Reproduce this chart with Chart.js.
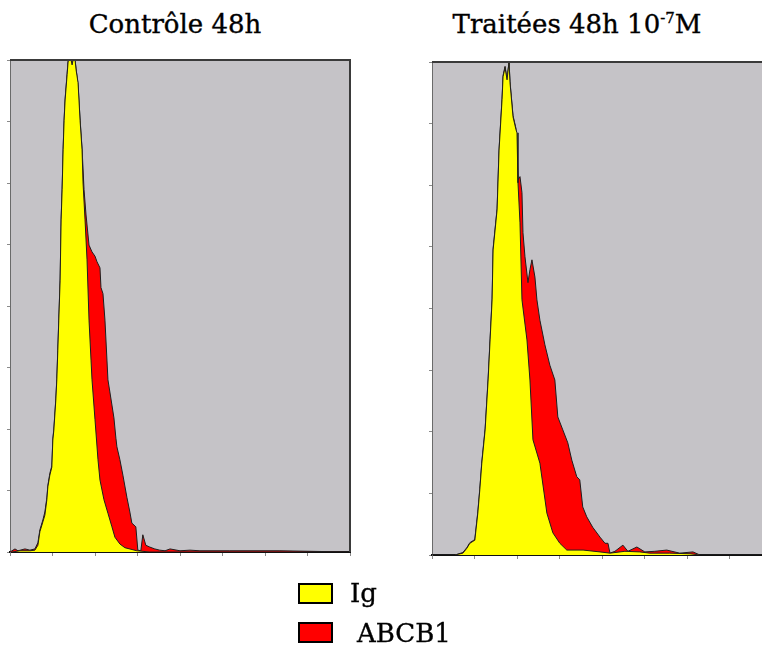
<!DOCTYPE html>
<html>
<head>
<meta charset="utf-8">
<script src="https://cdn.jsdelivr.net/npm/chart.js@4"></script>
<style>
  html, body { margin: 0; padding: 0; background: #fff; }
  body { width: 762px; height: 646px; overflow: hidden; position: relative; }
  canvas { position: absolute; top: 0; }
  .title, .lbl { position: absolute; font-family: "DejaVu Serif", serif; font-size: 26px; line-height: 26px; color: #000; white-space: nowrap; -webkit-text-stroke: 0.35px #000; }
  .title { text-align: center; top: 11px; }
  .title sup { font-size: 15px; line-height: 0; vertical-align: 10px; }
  .box { position: absolute; left: 298px; width: 35px; height: 21px; box-sizing: border-box; border: 2px solid #000; }
</style>
</head>
<body>
<div class="title" style="left:0; width:350px;">Contrôle 48h</div>
<div class="title" style="left:427px; width:300px;">Traitées 48h 10<sup>-7</sup>M</div>

<canvas id="ctrlChart" width="381" height="600" style="left:0"></canvas>
<canvas id="treatChart" width="400" height="600" style="left:381px"></canvas>

<div class="box" style="top:583px; background:#ffff00;"></div>
<div class="lbl" style="left:350px; top:580px;">Ig</div>
<div class="box" style="top:622px; background:#ff0000;"></div>
<div class="lbl" style="left:357px; top:620px;">ABCB1</div>

<script>
// fluorescence channel (0-1023) and cell counts
const ctrlIgCh = [6,30,60,75,84,90,99,105,111,114,120,126,129,132,138,141,144,147,151,154,157,160,163,166,172,175,178,184,187,190,196,199,205,211,217,220,226,232,238,244,247,256,265,271,283,295,307,316,331,346,382,421,1023];
const ctrlIgCount = [0,2,2,3,11,33,49,60,85,106,125,138,182,198,247,280,328,377,442,540,589,654,702,735,776,797,800,800,792,800,800,784,763,702,654,600,540,475,377,312,280,215,150,117,85,63,41,24,13,7,2,0,0];

const ctrlAbcb1Ch = [0,15,24,45,60,75,84,90,99,105,111,114,120,126,129,132,138,141,144,147,151,154,157,160,163,166,172,175,178,184,187,190,196,199,205,211,217,223,229,238,247,256,262,271,274,280,286,292,295,307,313,319,322,331,340,352,361,367,379,385,394,400,409,421,436,451,467,482,512,542,572,662,813,1023];
const ctrlAbcb1Count = [0,5,2,5,3,5,15,36,52,65,88,108,128,140,184,200,249,282,330,379,444,542,591,656,704,737,778,799,800,800,792,800,800,786,760,704,656,589,548,499,488,481,472,462,430,420,377,312,280,239,218,185,171,150,125,89,65,47,41,3,2,28,11,8,5,3,2,5,2,3,2,2,2,0];

const treatIgCh = [0,69,93,105,114,126,129,138,144,150,160,169,175,181,184,196,202,211,214,220,226,232,235,244,253,256,259,265,271,286,295,304,325,346,364,385,406,455,506,536,581,626,656,716,777,807,1023];
const treatIgCount = [0,0,3,11,19,23,24,68,106,149,203,284,349,414,495,560,657,739,776,791,771,800,766,711,690,685,604,539,414,349,284,187,149,68,36,19,8,8,5,3,6,5,3,3,2,0,0];

const treatAbcb1Ch = [0,69,93,105,114,126,129,138,144,150,160,169,175,181,184,196,202,211,214,220,226,232,235,244,253,259,265,271,274,280,289,295,301,310,316,325,340,355,370,379,394,409,421,436,445,454,466,484,506,521,530,536,551,575,590,617,641,671,707,746,786,807,1023];
const treatAbcb1Count = [0,0,4,12,20,24,26,70,108,151,205,286,351,416,497,562,659,741,778,793,773,800,768,713,692,609,614,588,523,484,442,463,479,451,414,381,341,308,284,224,203,182,154,127,122,78,62,45,29,19,19,3,6,16,6,13,5,6,8,3,5,0,0];

const channelTicks = 128;
const countTicks = 100;

function toPoints(xs, ys) {
    return xs.map((x, i) => ({ x: x, y: ys[i] }));
}

// grey plot background and the top/right frame lines
const framePlugin = {
    id: 'frame',
    beforeDraw(chart) {
        const { ctx, chartArea: a } = chart;
        ctx.save();
        ctx.fillStyle = '#c5c3c7';
        ctx.fillRect(a.left, a.top, a.right - a.left, a.bottom - a.top);
        ctx.restore();
    },
    afterDatasetsDraw(chart) {
        const { ctx, chartArea: a } = chart;
        ctx.save();
        ctx.strokeStyle = '#3a3a3a';
        ctx.lineWidth = 2;
        ctx.beginPath();
        ctx.moveTo(a.left, a.top);
        ctx.lineTo(a.right, a.top);
        ctx.lineTo(a.right, a.bottom);
        ctx.stroke();
        ctx.restore();
    }
};

function makeChart(id, igCh, igCount, abCh, abCount, padding) {
    const ctx = document.getElementById(id).getContext('2d');
    return new Chart(ctx, {
        type: 'line',
        data: {
            datasets: [
                {
                    label: 'Ig',
                    data: toPoints(igCh, igCount),
                    backgroundColor: '#ffff00',
                    borderColor: '#1e1e1e',
                    borderWidth: 1,
                    pointRadius: 0,
                    fill: 'origin',
                    tension: 0
                },
                {
                    label: 'ABCB1',
                    data: toPoints(abCh, abCount),
                    backgroundColor: '#ff0000',
                    borderColor: '#1e1e1e',
                    borderWidth: 1,
                    pointRadius: 0,
                    fill: 'origin',
                    tension: 0
                }
            ]
        },
        options: {
            responsive: false,
            animation: false,
            layout: { padding: padding },
            plugins: {
                legend: { display: false },
                tooltip: { enabled: false }
            },
            scales: {
                x: {
                    type: 'linear',
                    min: 0,
                    max: 1024,
                    ticks: { stepSize: channelTicks, callback: () => '', padding: 0 },
                    grid: { drawOnChartArea: false, drawTicks: true, tickLength: 4, color: '#8a8a8a' },
                    border: { display: true, color: '#111', width: 2 },
                    afterFit: scale => { scale.height = 10; }
                },
                y: {
                    min: 0,
                    max: 800,
                    ticks: { stepSize: countTicks, callback: () => '', padding: 0 },
                    grid: { drawOnChartArea: false, drawTicks: true, tickLength: 3, color: '#8a8a8a' },
                    border: { display: true, color: '#6a6a6a', width: 1 },
                    afterFit: scale => { scale.width = 10; }
                }
            }
        },
        plugins: [framePlugin]
    });
}

makeChart('ctrlChart', ctrlIgCh, ctrlIgCount, ctrlAbcb1Ch, ctrlAbcb1Count,
    { left: 0, top: 60, right: 31, bottom: 38 });
makeChart('treatChart', treatIgCh, treatIgCount, treatAbcb1Ch, treatAbcb1Count,
    { left: 41, top: 62, right: 9, bottom: 35 });
</script>
</body>
</html>
